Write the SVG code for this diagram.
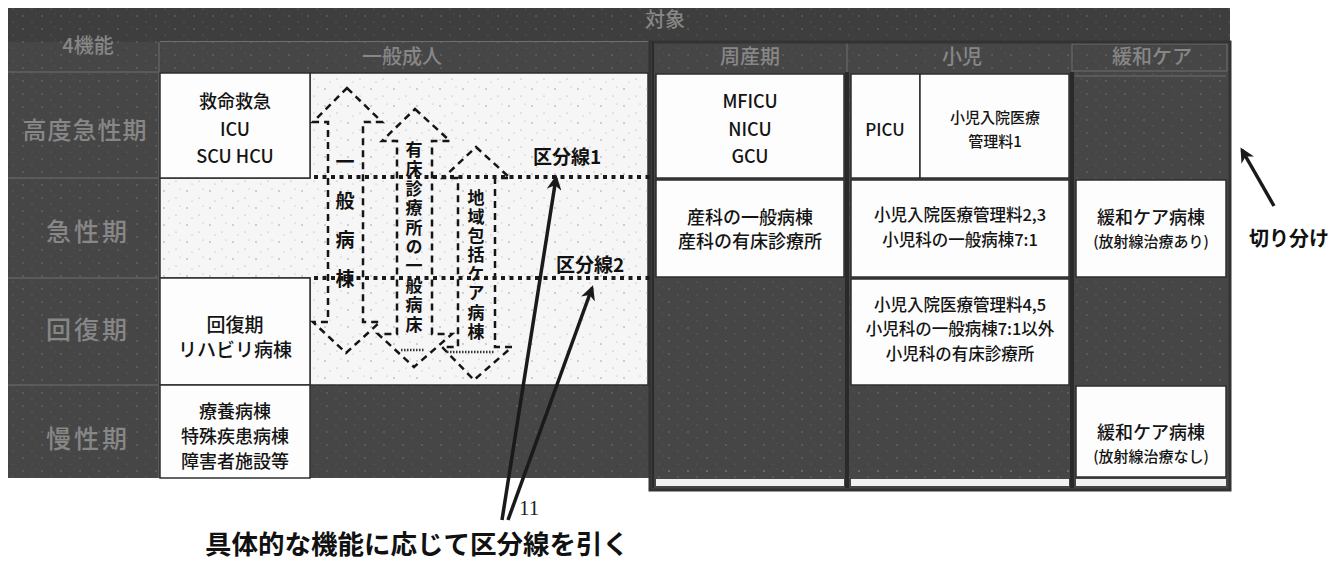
<svg xmlns="http://www.w3.org/2000/svg" width="1341" height="564" viewBox="0 0 1341 564">
<style>
  .cell { fill: #fdfdfd; stroke: #2e2e2e; stroke-width: 1.5; }
  .dark { fill: #464646; }
  .ct { font-family: "Noto Sans CJK JP", "Noto Sans", sans-serif; fill: #141414; text-anchor: middle; font-weight: 500; }
  .hd { font-family: "Noto Sans CJK JP", "Noto Sans", sans-serif; fill: #878787; text-anchor: middle; font-weight: 500; }
  .sep { stroke: #6e6e6e; stroke-width: 1; fill: none; }
  .dash { fill: none; stroke: #151515; stroke-width: 2.5; stroke-dasharray: 7 5; stroke-linejoin: miter; }
  .kbl { fill: none; stroke: #1a1a1a; stroke-width: 4; stroke-dasharray: 4 4.5; }
  .vt { font-family: "Noto Sans CJK JP", "Noto Sans", sans-serif; fill: #111; font-weight: 700; writing-mode: vertical-rl; }
  .lbl { font-family: "Noto Sans CJK JP", "Noto Sans", sans-serif; fill: #111; font-weight: 700; }
  .ptr { stroke: #1a1a1a; stroke-width: 3.5; fill: none; }
</style>
<defs>
  <pattern id="speck" width="23" height="17" patternUnits="userSpaceOnUse">
    <circle cx="3" cy="4" r="0.7" fill="#8a8a8a"/>
    <circle cx="15" cy="11" r="0.6" fill="#9a9a9a"/>
    <circle cx="19" cy="2" r="0.5" fill="#a0a0a0"/>
    <circle cx="8" cy="14" r="0.5" fill="#999"/>
  </pattern>
  <pattern id="dspeck" width="19" height="13" patternUnits="userSpaceOnUse">
    <circle cx="4" cy="3" r="0.7" fill="#7c7c7c"/>
    <circle cx="13" cy="9" r="0.6" fill="#6f6f6f"/>
    <circle cx="17" cy="1" r="0.5" fill="#5c5c5c"/>
    <circle cx="9" cy="11" r="0.5" fill="#363636"/>
  </pattern>
  <marker id="ah" viewBox="0 0 10 10" refX="8" refY="5" markerWidth="4.2" markerHeight="4.2" orient="auto" markerUnits="strokeWidth">
    <path d="M0,0 L10,5 L0,10 L3,5 Z" fill="#1a1a1a"/>
  </marker>
</defs>
<rect width="1341" height="564" fill="#ffffff"/>

<!-- table background -->
<g id="table-bg">
  <rect x="8" y="8" width="1222" height="470" class="dark"/>
  <rect x="8" y="8" width="1222" height="34" fill="#3e3e3e"/>
  <rect x="650" y="470" width="580" height="20" class="dark"/>
  <rect x="8" y="8" width="1222" height="470" fill="url(#dspeck)"/>
  <rect x="650" y="470" width="580" height="20" fill="url(#dspeck)"/>
  <line x1="160" y1="41.5" x2="1230" y2="41.5" class="sep"/>
  <line x1="8" y1="72" x2="158" y2="72" class="sep"/>
  <line x1="8" y1="178" x2="158" y2="178" class="sep"/>
  <line x1="8" y1="278" x2="158" y2="278" class="sep"/>
  <line x1="8" y1="385" x2="158" y2="385" class="sep"/>
  <line x1="159" y1="42" x2="159" y2="478" class="sep"/>
  <line x1="650" y1="42" x2="650" y2="72" class="sep"/>
  <line x1="847" y1="42" x2="847" y2="72" class="sep"/>
  <rect x="1072" y="44" width="155" height="27" class="sep"/>
  <line x1="1075" y1="76" x2="1226" y2="76" class="sep"/>
  <rect x="650" y="42" width="580" height="448" fill="none" stroke="#333" stroke-width="3"/>
  <line x1="653" y1="42" x2="653" y2="488" stroke="#2a2a2a" stroke-width="2"/>
  <line x1="847" y1="72" x2="847" y2="488" stroke="#2a2a2a" stroke-width="4"/>
  <line x1="1072" y1="72" x2="1072" y2="488" stroke="#2a2a2a" stroke-width="4"/>
  <rect x="656" y="479" width="188" height="7" fill="#f2f2f2"/>
  <rect x="851" y="479" width="218" height="7" fill="#f2f2f2"/>
  <rect x="1076" y="479" width="150" height="7" fill="#f2f2f2"/>
</g>

<!-- header labels -->
<g id="header">
  <text class="hd" x="88" y="53" font-size="20">4機能</text>
  <text class="hd" x="665" y="27" font-size="20">対象</text>
  <text class="hd" x="402" y="64" font-size="20">一般成人</text>
  <text class="hd" x="750" y="64" font-size="20">周産期</text>
  <text class="hd" x="962" y="64" font-size="20">小児</text>
  <text class="hd" x="1152" y="64" font-size="20">緩和ケア</text>
</g>

<!-- row labels -->
<g id="rows">
  <text class="hd" x="85" y="139" font-size="24" letter-spacing="1">高度急性期</text>
  <text class="hd" x="88" y="241" font-size="25" letter-spacing="3">急性期</text>
  <text class="hd" x="88" y="339" font-size="25" letter-spacing="3">回復期</text>
  <text class="hd" x="88" y="448" font-size="25" letter-spacing="3">慢性期</text>
</g>

<!-- dotted general-adult area -->
<g id="adult-area">
  <path d="M310,73 H648 V385 H310 V278 H160 V178 H310 Z" fill="#f6f6f6" stroke="#2e2e2e" stroke-width="1.5"/>
  <path d="M310,73 H648 V385 H310 V278 H160 V178 H310 Z" fill="url(#speck)"/>
</g>

<g id="kyumei">
  <rect x="160" y="73" width="150" height="105" class="cell"/>
  <text class="ct" x="235" y="108" font-size="18">救命救急</text>
  <text class="ct" x="235" y="136" font-size="18">ICU</text>
  <text class="ct" x="235" y="163" font-size="18">SCU HCU</text>
</g>
<g id="kaifuku">
  <rect x="160" y="278" width="150" height="107" class="cell"/>
  <text class="ct" x="235" y="332" font-size="19">回復期</text>
  <text class="ct" x="235" y="357" font-size="19">リハビリ病棟</text>
</g>
<g id="ryoyo">
  <rect x="160" y="385" width="150" height="93" class="cell"/>
  <text class="ct" x="235" y="418" font-size="18">療養病棟</text>
  <text class="ct" x="235" y="443" font-size="18">特殊疾患病棟</text>
  <text class="ct" x="235" y="468" font-size="18">障害者施設等</text>
</g>

<g id="mficu">
  <rect x="656" y="74" width="188" height="104" class="cell"/>
  <text class="ct" x="750" y="108" font-size="18">MFICU</text>
  <text class="ct" x="750" y="136" font-size="18">NICU</text>
  <text class="ct" x="750" y="163" font-size="18">GCU</text>
</g>
<g id="sanka">
  <rect x="656" y="180" width="188" height="97" class="cell"/>
  <text class="ct" x="750" y="224" font-size="18">産科の一般病棟</text>
  <text class="ct" x="750" y="248" font-size="18">産科の有床診療所</text>
</g>

<g id="picu">
  <rect x="851" y="74" width="69" height="104" class="cell"/>
  <text class="ct" x="885" y="136" font-size="17">PICU</text>
</g>
<g id="shoni1">
  <rect x="920" y="74" width="149" height="104" class="cell"/>
  <text class="ct" x="995" y="123" font-size="15">小児入院医療</text>
  <text class="ct" x="995" y="147" font-size="15">管理料1</text>
</g>
<g id="shoni23">
  <rect x="851" y="180" width="218" height="97" class="cell"/>
  <text class="ct" x="960" y="221" font-size="16.5">小児入院医療管理料2,3</text>
  <text class="ct" x="960" y="246" font-size="16.5">小児科の一般病棟7:1</text>
</g>
<g id="shoni45">
  <rect x="851" y="279" width="218" height="106" class="cell"/>
  <text class="ct" x="960" y="311" font-size="16.5">小児入院医療管理料4,5</text>
  <text class="ct" x="960" y="335" font-size="16.5">小児科の一般病棟7:1以外</text>
  <text class="ct" x="960" y="360" font-size="16.5">小児科の有床診療所</text>
</g>

<g id="kanwa-ari">
  <rect x="1076" y="180" width="150" height="97" class="cell"/>
  <text class="ct" x="1151" y="224" font-size="18">緩和ケア病棟</text>
  <text class="ct" x="1151" y="247" font-size="15">(放射線治療あり)</text>
</g>
<g id="kanwa-nashi">
  <rect x="1076" y="386" width="150" height="91" class="cell"/>
  <text class="ct" x="1151" y="439" font-size="18">緩和ケア病棟</text>
  <text class="ct" x="1151" y="462" font-size="15">(放射線治療なし)</text>
</g>

<!-- dashed double arrows -->
<g id="arrow-ippan">
  <polygon class="dash" points="347,88 382,122 363,122 363,322 380,322 346,353 313,322 328,322 328,122 313,122"/>
  <text class="vt" x="345" y="152" font-size="19" letter-spacing="20">一般病棟</text>
</g>
<g id="arrow-yusho">
  <polygon class="dash" points="415,109 450,141 432,141 432,334 452,334 414,367 378,334 397,334 397,141 382,141"/>
  <line x1="401" y1="350" x2="425" y2="350" stroke="#333" stroke-width="2.5" stroke-dasharray="1.5 1.5"/>
  <text class="vt" x="414" y="141" font-size="17" letter-spacing="2.4">有床診療所の一般病床</text>
</g>
<g id="arrow-chiiki">
  <polygon class="dash" points="476,147 510,178 495,178 495,347 512,347 474,380 442,347 458,347 458,178 443,178"/>
  <line x1="447" y1="352" x2="494" y2="352" stroke="#333" stroke-width="2.5" stroke-dasharray="1.5 1.5"/>
  <text class="vt" x="476" y="189" font-size="17" letter-spacing="2.1">地域包括ケア病棟</text>
</g>

<!-- connectors: division lines and pointers -->
<g id="connectors">
  <line class="kbl" x1="314" y1="177" x2="650" y2="177"/>
  <line class="kbl" x1="314" y1="278" x2="650" y2="278"/>
  <line class="ptr" x1="502" y1="520" x2="556" y2="178" marker-end="url(#ah)"/>
  <line class="ptr" x1="508" y1="520" x2="592" y2="288" marker-end="url(#ah)"/>
  <line class="ptr" x1="1274" y1="206" x2="1242" y2="150" stroke-width="4" marker-end="url(#ah)"/>
</g>

<g id="labels">
  <text class="lbl" x="533" y="164" font-size="19">区分線1</text>
  <text class="lbl" x="556" y="272" font-size="19">区分線2</text>
  <text class="lbl" x="1249" y="246" font-size="20">切り分け</text>
  <text class="lbl" x="205" y="554" font-size="26.5">具体的な機能に応じて区分線を引く</text>
  <text x="519" y="515" font-family="Liberation Serif, serif" font-size="21" fill="#222">11</text>
</g>
</svg>
